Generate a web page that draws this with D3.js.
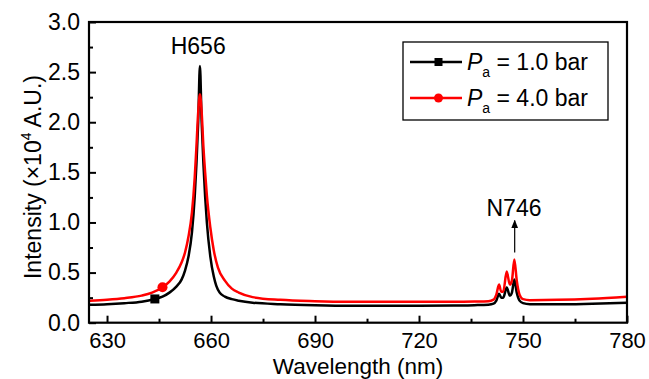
<!DOCTYPE html>
<html>
<head>
<meta charset="utf-8">
<script src="https://cdn.jsdelivr.net/npm/d3@7"></script>
<style>
  body { margin: 0; background: #fff; }
  text { font-family: Arial, "Liberation Sans", sans-serif; }
</style>
</head>
<body>
<div id="container"></div>
<script>
let w = 649;
let h = 379;
let margin = {left: 89, right: 22, top: 22, bottom: 56};

// wavelength (nm) and intensity (x10^4 A.U.)
let wl1 = [625, 630, 635, 640, 643.8, 646, 648, 650, 651.5, 652.5, 653.5, 654.5, 655.3, 655.8, 656.3, 656.8,
  657.3, 657.8, 658.3, 658.8, 659.8, 660.8, 661.5, 662.5, 664, 666, 668, 672, 680, 690, 700, 710, 720, 730, 736,
  740, 741.5, 742.3, 743.1, 743.7, 744.3, 745.3, 746.2, 746.8, 747.5, 748.2, 749, 750, 752, 760, 770, 780];
let int1 = [0.18, 0.185, 0.195, 0.21, 0.237, 0.26, 0.3, 0.36, 0.43, 0.52, 0.66, 0.9, 1.26, 1.59, 2.0, 2.56,
  2.0, 1.59, 1.26, 1.0, 0.66, 0.46, 0.37, 0.3, 0.26, 0.235, 0.22, 0.2, 0.185, 0.175, 0.17, 0.17, 0.17, 0.172, 0.175,
  0.18, 0.19, 0.22, 0.29, 0.25, 0.25, 0.35, 0.27, 0.3, 0.43, 0.3, 0.22, 0.195, 0.185, 0.183, 0.19, 0.2];

let wl2 = [625, 630, 635, 640, 643, 646, 648, 650, 651.5, 652.5, 653.5, 654.5, 655.3, 655.8, 656.3, 656.8,
  657.3, 657.8, 658.3, 658.8, 659.8, 660.8, 662, 664, 666, 668, 672, 680, 690, 700, 710, 720, 730, 736,
  740, 741.5, 742.3, 743.1, 743.7, 744.3, 745.3, 746.2, 746.8, 747.5, 748.2, 749, 750, 752, 760, 770, 780];
let int2 = [0.22, 0.23, 0.245, 0.27, 0.3, 0.354, 0.41, 0.5, 0.6, 0.7, 0.86, 1.1, 1.45, 1.76, 2.1, 2.28,
  2.1, 1.76, 1.5, 1.27, 0.95, 0.72, 0.55, 0.42, 0.34, 0.3, 0.255, 0.228, 0.215, 0.21, 0.21, 0.21, 0.21, 0.212,
  0.215, 0.23, 0.28, 0.38, 0.31, 0.31, 0.51, 0.38, 0.42, 0.63, 0.42, 0.28, 0.235, 0.225, 0.228, 0.24, 0.26];

let seriesNames = ["1.0 bar", "4.0 bar"];
let seriesColors = ["black", "red"];
let markerIdx = [4, 5]; // which point carries the symbol

let xTicks = [630, 660, 690, 720, 750, 780];
let xMinor = [645, 675, 705, 735, 765];
let yTicks = [0, 0.5, 1.0, 1.5, 2.0, 2.5, 3.0];
let yMinor = [0.25, 0.75, 1.25, 1.75, 2.25, 2.75];

let viz = d3.select("#container")
  .append("svg")
    .attr("width", w)
    .attr("height", h)
    .style("background-color", "white");

let x = d3.scaleLinear().domain([624.8, 780]).range([margin.left, w - margin.right]);
let y = d3.scaleLinear().domain([0, 3]).range([h - margin.bottom - 0.3, margin.top]);

let defs = viz.append("defs");
defs.append("clipPath").attr("id", "clip")
  .append("rect")
    .attr("x", margin.left).attr("y", margin.top)
    .attr("width", w - margin.left - margin.right)
    .attr("height", h - margin.top - margin.bottom);
defs.append("marker").attr("id", "arrow")
    .attr("viewBox", "0 0 10 10").attr("refX", 9).attr("refY", 5)
    .attr("markerWidth", 7).attr("markerHeight", 7).attr("orient", "auto")
  .append("path").attr("d", "M0,1 L10,5 L0,9 Z").attr("fill", "black");

// lines
let line = d3.line().x(d => x(d[0])).y(d => y(d[1])).curve(d3.curveMonotoneX);
let series = [d3.zip(wl1, int1), d3.zip(wl2, int2)];

series.forEach((s, i) => {
  viz.append("path")
    .attr("clip-path", "url(#clip)")
    .attr("d", line(s))
    .attr("fill", "none")
    .attr("stroke", seriesColors[i])
    .attr("stroke-width", 2.5)
    .attr("stroke-linejoin", "round");
});

// symbols
series.forEach((s, i) => {
  let p = s[markerIdx[i]];
  if (i == 0) {
    viz.append("rect").attr("x", x(p[0]) - 4.5).attr("y", y(p[1]) - 4.5)
      .attr("width", 9).attr("height", 9).attr("fill", "black");
  } else {
    viz.append("circle").attr("cx", x(p[0])).attr("cy", y(p[1])).attr("r", 5).attr("fill", "red");
  }
});

// axes
let xAxis = viz.append("g").attr("transform", "translate(0," + y(0) + ")")
  .call(d3.axisBottom(x).tickValues(xTicks).tickSizeInner(-7).tickSizeOuter(0).tickPadding(10).tickFormat(d3.format("d")));
let xAxisMinor = viz.append("g").attr("transform", "translate(0," + y(0) + ")")
  .call(d3.axisBottom(x).tickValues(xMinor).tickSizeInner(-4).tickSizeOuter(0).tickFormat(""));
let yAxis = viz.append("g").attr("transform", "translate(" + margin.left + ",0)")
  .call(d3.axisLeft(y).tickValues(yTicks).tickSizeInner(-7).tickSizeOuter(0).tickPadding(9).tickFormat(d3.format(".1f")));
let yAxisMinor = viz.append("g").attr("transform", "translate(" + margin.left + ",0)")
  .call(d3.axisLeft(y).tickValues(yMinor).tickSizeInner(-4).tickSizeOuter(0).tickFormat(""));

[xAxis, xAxisMinor, yAxis, yAxisMinor].forEach(a => {
  a.select(".domain").remove();
  a.selectAll("line").attr("stroke", "black").attr("stroke-width", 2);
  a.selectAll("text").attr("font-size", 23).attr("fill", "black")
    .style("font-family", "Arial, 'Liberation Sans', sans-serif");
});
xAxis.selectAll("text").attr("font-size", 22);

// frame
viz.append("rect")
  .attr("x", margin.left).attr("y", margin.top)
  .attr("width", w - margin.left - margin.right)
  .attr("height", y(0) - margin.top)
  .attr("fill", "none").attr("stroke", "black").attr("stroke-width", 2.2);

// axis titles
viz.append("text")
  .attr("x", (margin.left + w - margin.right) / 2).attr("y", 374)
  .attr("text-anchor", "middle").attr("font-size", 22.5)
  .text("Wavelength (nm)");

let yt = viz.append("text")
  .attr("transform", "translate(41," + 177 + ") rotate(-90)")
  .attr("text-anchor", "middle").attr("font-size", 23);
yt.append("tspan").text("Intensity (\u00d710");
yt.append("tspan").attr("font-size", 14).attr("dy", -10).text("4");
yt.append("tspan").attr("dy", 10).text(" A.U.)");

// peak labels
viz.append("text").attr("x", x(656.3)).attr("y", y(2.68))
  .attr("text-anchor", "middle").attr("font-size", 23).text("H656");
viz.append("text").attr("x", x(747.4)).attr("y", y(1.06))
  .attr("text-anchor", "middle").attr("font-size", 23).text("N746");
viz.append("line")
  .attr("x1", x(747.6)).attr("y1", y(0.7))
  .attr("x2", x(747.6)).attr("y2", y(1.02))
  .attr("stroke", "black").attr("stroke-width", 1.2)
  .attr("marker-end", "url(#arrow)");

// legend
let lg = viz.append("g");
lg.append("rect").attr("x", 403).attr("y", 42).attr("width", 205).attr("height", 78)
  .attr("fill", "white").attr("stroke", "black").attr("stroke-width", 1.3);
let legY = [62, 98];
seriesNames.forEach((name, i) => {
  lg.append("line").attr("x1", 410).attr("x2", 462).attr("y1", legY[i]).attr("y2", legY[i])
    .attr("stroke", seriesColors[i]).attr("stroke-width", 2.5);
  if (i == 0) {
    lg.append("rect").attr("x", 434.5).attr("y", legY[i] - 4).attr("width", 8).attr("height", 8).attr("fill", "black");
  } else {
    lg.append("circle").attr("cx", 438.5).attr("cy", legY[i]).attr("r", 4.5).attr("fill", "red");
  }
  let t = lg.append("text").attr("x", 467).attr("y", legY[i] + 8).attr("font-size", 23);
  t.append("tspan").attr("font-style", "italic").text("P");
  t.append("tspan").attr("font-size", 14).attr("dy", 7).text("a");
  t.append("tspan").attr("dy", -7).text(" = " + name);
});
</script>
</body>
</html>
